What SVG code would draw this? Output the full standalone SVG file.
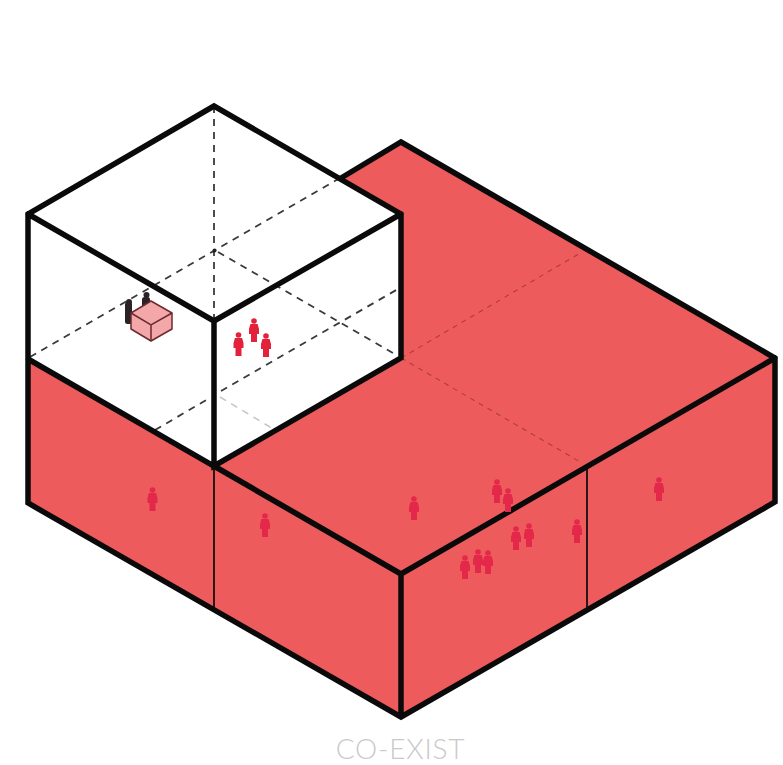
<svg xmlns="http://www.w3.org/2000/svg" width="783" height="765" viewBox="0 0 783 765">
<style>
.red{fill:#ee5b5c}
.k{fill:none;stroke:#0a0a0a;stroke-width:5.500;stroke-linejoin:miter;stroke-linecap:round}
.thin{fill:none;stroke:#151010;stroke-width:1.800}
.d{fill:none;stroke:#3a3a3a;stroke-width:1.800;stroke-dasharray:7 6}
.dr{fill:none;stroke:#b03c40;stroke-width:1.100;stroke-dasharray:5 5}
.dg{fill:none;stroke:#c4c4c4;stroke-width:1.500;stroke-dasharray:7 6}
.lbl{font-family:"Lato","Open Sans",sans-serif;font-weight:300;font-size:28px;letter-spacing:0.800px;fill:#c9c9c9}
</style>
<defs>
<g id="p"><circle cx="0" cy="-9" r="2.800"/><path d="M-3.600,-6 H3.600 L5,-1 V4 H3 V12 H-3 V4 H-5 V-1 Z"/></g>
</defs>
<rect width="783" height="765" fill="#fff"/>
<g id="base">
<polygon class="red" points="401,142 775,358 775,502 401,717 28,503 28,359 214,250"/>
<polygon points="214,106 401,214 401,358 214,466 28,359 28,214" fill="#fff"/>
<path class="dr" d="M401,358 L582,463 M401,358 L582,252"/>
</g>
<g id="dashes">
<path class="d" d="M214,106 V320 M30,357 L340,178 M218,252 L398,356 M155,430 L208,399 M221,391 L398,289"/>
<circle cx="214.500" cy="250.500" r="2" fill="#222"/>
<path class="dg" d="M220,397 L275,430"/>
</g>
<g id="table">
<rect x="125" y="302" width="7" height="22" rx="2.500" fill="#2a2226"/><circle cx="129" cy="302" r="3" fill="#2a2226"/>
<rect x="142" y="297" width="8" height="12" rx="2.500" fill="#2a2226"/><circle cx="146.500" cy="295" r="3" fill="#2a2226"/>
<polygon points="151,301 172,313 172,329 151,341 131,329 131,313" fill="#f4a7a8" stroke="#6b2a2e" stroke-width="1.500" stroke-linejoin="round"/>
<path d="M131,313 L151,325 L172,313 M151,325 V341" fill="none" stroke="#6b2a2e" stroke-width="1.500"/>
</g>
<g id="outline">
<path class="thin" d="M214,466 V608 M587,466 V607"/>
<path class="k" d="M341,178 L401,142 L775,358 V502 L401,717 L28,503 V214 L214,106 L401,214 V358 L214,466 V321 M28,214 L214,321 L401,214 M28,359 L401,574 V717 M214,466 L401,574 L775,358"/>
</g>
<g id="people-white" fill="#e4213a">
<use href="#p" x="238.500" y="344"/><use href="#p" x="254" y="330"/><use href="#p" x="266" y="345"/>
</g>
<g id="people-red" fill="#e4284a">
<use href="#p" x="152.500" y="499"/><use href="#p" x="265" y="525"/><use href="#p" x="414" y="508"/>
<use href="#p" x="497" y="491"/><use href="#p" x="508" y="500"/><use href="#p" x="516" y="538"/><use href="#p" x="529" y="535"/>
<use href="#p" x="465" y="567"/><use href="#p" x="478" y="561"/><use href="#p" x="488" y="562"/><use href="#p" x="577" y="531"/><use href="#p" x="659" y="489"/>
</g>
<text class="lbl" x="400.500" y="759" text-anchor="middle">CO-EXIST</text>
</svg>
